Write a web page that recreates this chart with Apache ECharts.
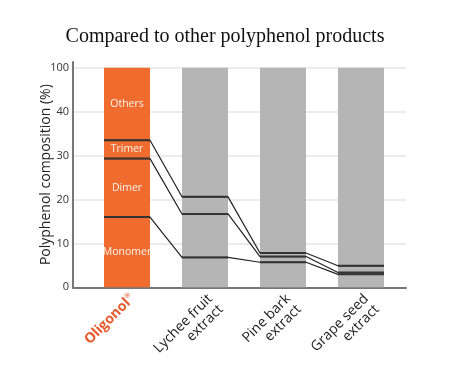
<!DOCTYPE html>
<html><head><meta charset="utf-8">
<script src="https://cdn.jsdelivr.net/npm/echarts@6/dist/echarts.min.js"></script>
<style>html,body{margin:0;padding:0;background:#fff}#c{width:450px;height:377px}</style>
</head><body><div id="c"></div>
<script>
// ---- data (real percentages) ----
const categories = ['Oligonol', 'Lychee fruit\nextract', 'Pine bark\nextract', 'Grape seed\nextract'];
const segmentNames = ['Monomer', 'Dimer', 'Trimer', 'Others'];
// Oligonol composition by segment (%)
const oligonolSegments = [16, 13.3, 4.2, 66.5];
// cumulative boundary levels for each product (%), lower, middle, upper
const boundaryLow  = [16,   6.8, 5.7, 2.95];
const boundaryMid  = [29.3, 16.7, 7.0, 3.35];
const boundaryHigh = [33.5, 20.6, 7.8, 4.9];
const totals = [100, 100, 100, 100];
const yTickLabels = ['0', '10', '20', '30', '40', '100'];

// broken axis: 0-40 linear, 40-100 compressed into one interval
function toAxis(v) { return v <= 40 ? v : 40 + (v - 40) / 6; }

const orange = '#EF6B2E';
const grey = '#B5B5B5';
const hw = 0.295; // half bar width in category units
const yMax = 51.3;

let cum = 0;
const segSeries = segmentNames.map((name, k) => {
  const lo = cum; cum += oligonolSegments[k];
  const val = toAxis(cum) - toAxis(lo);
  return {
    name, type: 'bar', xAxisIndex: 1, yAxisIndex: 1, stack: 'a', barWidth: 46,
    itemStyle: { color: orange },
    label: { show: true, position: 'inside', formatter: name, color: '#fff', fontSize: 10.5, fontFamily: 'Open Sans', opacity: 0.92 },
    data: categories.map((c, i) => i === 0 ? val : null),
    z: 2
  };
});
const greySeries = {
  type: 'bar', xAxisIndex: 1, yAxisIndex: 1, stack: 'a', barWidth: 46,
  itemStyle: { color: grey },
  data: totals.map((t, i) => i === 0 ? null : toAxis(t)), z: 2
};

function boundarySeries(arr) {
  const slant = [], flat = [];
  arr.forEach((v, i) => {
    const y = toAxis(v);
    slant.push([i - hw, y], [i + hw, y]);
    flat.push([i - hw, y], [i + hw, y], [null, null]);
  });
  return [
    { type: 'line', xAxisIndex: 2, yAxisIndex: 1, data: slant, symbol: 'none', silent: true,
      lineStyle: { color: '#222', width: 1.2 }, z: 5 },
    { type: 'line', xAxisIndex: 2, yAxisIndex: 1, data: flat, symbol: 'none', silent: true, connectNulls: false,
      lineStyle: { color: '#333', width: 2 }, z: 6 }
  ];
}

const gl = '#e4e4e4';
const chart = echarts.init(document.getElementById('c'));
chart.setOption({
  animation: false,
  title: { text: 'Compared to other polyphenol products', left: 'center', top: 22,
    textStyle: { fontFamily: 'Liberation Serif', fontWeight: 'normal', fontSize: 20, color: '#111' } },
  grid: [
    { left: 73, right: 44, top: 62, bottom: 89.7 },
    { left: 88, right: 50, top: 62, bottom: 89.7 }
  ],
  xAxis: [
    { type: 'value', gridIndex: 0, min: 0, max: 1, axisLabel: { show: false }, splitLine: { show: false },
      axisTick: { show: false }, axisLine: { show: true, lineStyle: { color: '#777', width: 2 } } },
    { type: 'category', gridIndex: 1, data: categories, axisLine: { show: false }, axisTick: { show: false },
      axisLabel: { rotate: 45, margin: 4, verticalAlign: 'top', align: 'right',
        fontFamily: 'Open Sans', fontSize: 14, color: '#222', lineHeight: 15,
        formatter: (v, i) => i === 0 ? '{o|Oligonol}{r|®}' : v,
        rich: { o: { color: '#E8582A', fontWeight: 'bold', fontSize: 14, fontFamily: 'Open Sans' },
                r: { color: '#E8582A', fontSize: 7, verticalAlign: 'top', padding: [0,0,7,0] } } } },
    { type: 'value', gridIndex: 1, min: -0.5, max: 3.5, show: false }
  ],
  yAxis: [
    { type: 'value', gridIndex: 0, min: 0, max: yMax, interval: 10,
      name: 'Polyphenol composition (%)', nameLocation: 'middle', nameGap: 20, nameMoveOverlap: false,
      nameTextStyle: { fontFamily: 'Open Sans', fontSize: 14, color: '#222' },
      axisLine: { show: true, lineStyle: { color: '#777', width: 2 } }, axisTick: { show: false },
      axisLabel: { formatter: (v) => (v % 10 === 0 ? yTickLabels[v / 10] : ''), fontFamily: 'Open Sans', fontSize: 11, color: '#333', margin: 4 },
      splitLine: { lineStyle: { color: [gl, gl, gl, gl, gl, gl, 'rgba(0,0,0,0)'], width: 1.5 } } },
    { type: 'value', gridIndex: 1, min: 0, max: yMax, show: false }
  ],
  series: [...segSeries, greySeries,
    ...boundarySeries(boundaryLow), ...boundarySeries(boundaryMid), ...boundarySeries(boundaryHigh)]
});
</script></body></html>
